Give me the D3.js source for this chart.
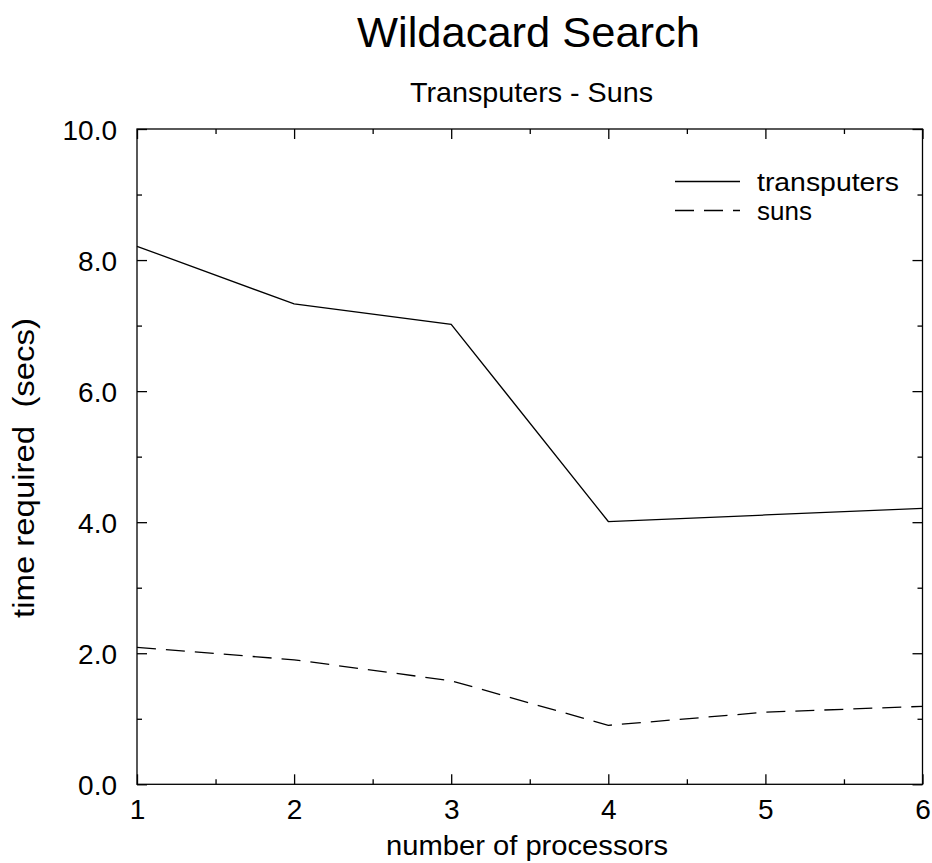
<!DOCTYPE html>
<html>
<head>
<meta charset="utf-8">
<script src="https://cdn.jsdelivr.net/npm/d3@7"></script>
<style>
  html, body { margin: 0; padding: 0; background: #fff; }
  svg { display: block; font-family: "Liberation Sans", Arial, Helvetica, sans-serif; }
</style>
</head>
<body>
<svg id="chart" width="932" height="863"></svg>
<script>
// ---- data ----
const processors = [1, 2, 3, 4, 5, 6];
const transputers = [8.21, 7.33, 7.02, 4.01, 4.11, 4.21];
const suns = [2.09, 1.90, 1.58, 0.90, 1.10, 1.19];
const seriesNames = ["transputers", "suns"];
const xTickValues = [1, 2, 3, 4, 5, 6];
const xMinorTicks = [1.5, 2.5, 3.5, 4.5, 5.5];
const yTickValues = [0, 2, 4, 6, 8, 10];
const yMinorTicks = [1, 3, 5, 7, 9];
const titleText = "Wildacard Search";
const subtitleText = "Transputers - Suns";
const xLabel = "number of processors";
const yLabel = "time required\u00a0\u00a0(secs)";

// ---- layout ----
const svg = d3.select("#chart");
const pLeft = 137, pRight = 922.5, pTop = 129, pBottom = 784.3;
const x = d3.scaleLinear().domain([1, 6]).range([pLeft, pRight]);
const y = d3.scaleLinear().domain([0, 10]).range([pBottom, pTop]);
const fs = 28;
const ink = "#000";

// frame
svg.append("rect")
  .attr("x", pLeft).attr("y", pTop)
  .attr("width", pRight - pLeft).attr("height", pBottom - pTop)
  .attr("fill", "none").attr("stroke", ink).attr("stroke-width", 1.3);

// axes with inward ticks
const majorLen = 10, minorLen = 5;
function addAxis(axisGen, tx, ty, values, len, showLabels) {
  const g = svg.append("g").attr("transform", `translate(${tx},${ty})`)
    .call(axisGen.tickValues(values).tickSizeInner(-len).tickSizeOuter(0)
      .tickPadding(len + 12));
  g.select(".domain").remove();
  g.selectAll(".tick line").attr("stroke", ink).attr("stroke-width", 1.3);
  if (!showLabels) g.selectAll(".tick text").remove();
  return g;
}
// bottom
const gxb = addAxis(d3.axisBottom(x).tickFormat(d3.format("d")), 0, pBottom, xTickValues, majorLen, true);
gxb.selectAll(".tick text").attr("font-size", fs).attr("fill", ink)
  .attr("font-family", "Liberation Sans, Arial, sans-serif").attr("dy", null).attr("y", 35);
addAxis(d3.axisBottom(x), 0, pBottom, xMinorTicks, minorLen, false);
// top
addAxis(d3.axisTop(x), 0, pTop, xTickValues, majorLen, false);
addAxis(d3.axisTop(x), 0, pTop, xMinorTicks, minorLen, false);
// left
const gyl = addAxis(d3.axisLeft(y).tickFormat(d3.format(".1f")), pLeft, 0, yTickValues, majorLen, true);
gyl.selectAll(".tick text").attr("font-size", fs).attr("fill", ink)
  .attr("font-family", "Liberation Sans, Arial, sans-serif").attr("x", -20).attr("dy", "0.36em");
addAxis(d3.axisLeft(y), pLeft, 0, yMinorTicks, minorLen, false);
// right
addAxis(d3.axisRight(y), pRight, 0, yTickValues, majorLen, false);
addAxis(d3.axisRight(y), pRight, 0, yMinorTicks, minorLen, false);

// lines
const line = d3.line().x((d, i) => x(processors[i])).y(d => y(d));
const dash = "19,10";
svg.append("path").datum(transputers).attr("d", line)
  .attr("fill", "none").attr("stroke", ink).attr("stroke-width", 1.3);
svg.append("path").datum(suns).attr("d", line)
  .attr("fill", "none").attr("stroke", ink).attr("stroke-width", 1.3)
  .attr("stroke-dasharray", dash);

// legend
const legendRows = [
  { name: seriesNames[0], dash: null, y: 181.5 },
  { name: seriesNames[1], dash: dash, y: 210.5 }
];
legendRows.forEach(r => {
  svg.append("line").attr("x1", 675).attr("x2", 740).attr("y1", r.y).attr("y2", r.y)
    .attr("stroke", ink).attr("stroke-width", 1.3)
    .attr("stroke-dasharray", r.dash);
  svg.append("text").attr("x", 757).attr("y", r.y + 9)
    .attr("font-size", 26).attr("fill", ink)
    .attr("textLength", r.name === seriesNames[0] ? 142 : null)
    .attr("lengthAdjust", "spacingAndGlyphs")
    .text(r.name);
});

// titles
svg.append("text").attr("x", 528.5).attr("y", 47).attr("text-anchor", "middle")
  .attr("font-size", 43).attr("fill", ink)
  .attr("textLength", 343).attr("lengthAdjust", "spacingAndGlyphs").text(titleText);
svg.append("text").attr("x", 531.5).attr("y", 102).attr("text-anchor", "middle")
  .attr("font-size", fs).attr("fill", ink)
  .attr("textLength", 243).attr("lengthAdjust", "spacingAndGlyphs").text(subtitleText);
svg.append("text").attr("x", 527).attr("y", 855).attr("text-anchor", "middle")
  .attr("font-size", fs).attr("fill", ink)
  .attr("textLength", 282).attr("lengthAdjust", "spacingAndGlyphs").text(xLabel);
svg.append("text").attr("transform", `translate(34,468) rotate(-90)`)
  .attr("text-anchor", "middle")
  .attr("font-size", 29).attr("fill", ink)
  .attr("textLength", 300).attr("lengthAdjust", "spacingAndGlyphs").text(yLabel);
</script>
</body>
</html>
